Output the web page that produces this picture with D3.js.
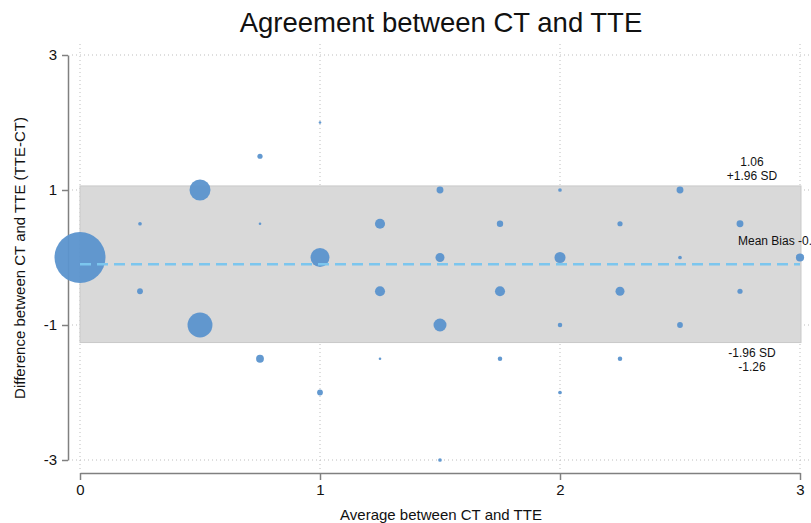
<!DOCTYPE html>
<html>
<head>
    <meta charset="utf-8">
    <style>
        body { margin: 0; background: #fff; }
        svg { display: block; font-family: 'Liberation Sans', Arial, Helvetica, sans-serif; }
        .grid line { stroke: #bdbdbd; stroke-dasharray: 1 3; }
        .axis .domain, .axis .tick line { stroke: #808080; stroke-width: 1.5; }
        .axis .tick text { fill: #111; font-size: 15px; }
    </style>
</head>
<body>
    <svg width="811" height="523"></svg>

<script src="https://d3js.org/d3.v7.min.js"></script>
<script>
    // average of the two methods (x), difference TTE-CT (y), number of patients at that point
    let avgVals  = [0, 0.25, 0.25, 0.5, 0.5, 0.75, 0.75, 0.75, 1, 1, 1, 1.25, 1.25, 1.25, 1.5, 1.5, 1.5, 1.5,
                    1.75, 1.75, 1.75, 2, 2, 2, 2, 2.25, 2.25, 2.25, 2.5, 2.5, 2.5, 2.75, 2.75, 3];
    let diffVals = [0, 0.5, -0.5, 1, -1, 1.5, 0.5, -1.5, 2, 0, -2, 0.5, -0.5, -1.5, 1, 0, -1, -3,
                    0.5, -0.5, -1.5, 1, 0, -1, -2, 0.5, -0.5, -1.5, 1, 0, -1, 0.5, -0.5, 0];
    let counts   = [385, 2, 5, 65, 92, 4, 1, 9, 1, 53, 5, 15, 15, 1, 7, 12, 25, 2,
                    6, 15, 3, 2, 18, 3, 2, 4, 12, 3, 7, 2, 5, 7, 4, 10];

    let meanBias = -0.10;
    let upperLoA = 1.06;
    let lowerLoA = -1.26;

    let xTicks = [0, 1, 2, 3];
    let yTicks = [-3, -1, 1, 3];

    let data = avgVals.map((a, i) => ({ avg: a, diff: diffVals[i], n: counts[i] }));

    let svg = d3.select("svg");

    let x = d3.scaleLinear().domain([0, 3]).range([80, 800]);
    let y = d3.scaleLinear().domain([-3, 3]).range([460, 55]);
    let r = d3.scaleSqrt().domain([0, d3.max(counts)]).range([0, 25.5]);

    // dotted grid
    let grid = svg.append("g").attr("class", "grid");
    grid.selectAll(".gx").data(xTicks).join("line")
        .attr("x1", d => x(d)).attr("x2", d => x(d))
        .attr("y1", 44).attr("y2", 470);
    grid.selectAll(".gy").data(yTicks).join("line")
        .attr("x1", 72).attr("x2", 811)
        .attr("y1", d => y(d)).attr("y2", d => y(d));

    // limits of agreement band
    svg.append("rect")
        .attr("x", x(0))
        .attr("y", y(upperLoA))
        .attr("width", x(3) - x(0) + 1)
        .attr("height", y(lowerLoA) - y(upperLoA))
        .attr("fill", "#d9d9d9")
        .attr("stroke", "#c9c9c9");

    // axes
    svg.append("g")
        .attr("class", "axis")
        .attr("transform", "translate(68,0)")
        .call(d3.axisLeft(y).tickValues(yTicks).tickFormat(d => String(d)).tickSize(6).tickSizeOuter(0).tickPadding(5));

    svg.append("g")
        .attr("class", "axis")
        .attr("transform", "translate(0,473)")
        .call(d3.axisBottom(x).tickValues(xTicks).tickFormat(d => String(d)).tickSize(7).tickSizeOuter(0).tickPadding(4));

    // bubbles
    svg.append("g")
        .selectAll("circle")
        .data(data.sort((a, b) => b.n - a.n))
        .join("circle")
        .attr("cx", d => x(d.avg))
        .attr("cy", d => y(d.diff))
        .attr("r", d => r(d.n))
        .attr("fill", "#5b93cd")
        .attr("fill-opacity", 0.95);

    // mean bias line
    svg.append("line")
        .attr("x1", x(0)).attr("x2", x(3))
        .attr("y1", y(meanBias)).attr("y2", y(meanBias))
        .attr("stroke", "#7cc6ee")
        .attr("stroke-width", 2.5)
        .attr("stroke-dasharray", "11 6");

    // annotations
    let ann = svg.append("g").attr("font-size", "12px").attr("fill", "#111");
    ann.append("text").attr("x", 752).attr("y", y(upperLoA) - 20).attr("text-anchor", "middle").text(upperLoA.toFixed(2));
    ann.append("text").attr("x", 752).attr("y", y(upperLoA) - 6).attr("text-anchor", "middle").text("+1.96 SD");
    ann.append("text").attr("x", 752).attr("y", y(lowerLoA) + 14).attr("text-anchor", "middle").text("-1.96 SD");
    ann.append("text").attr("x", 752).attr("y", y(lowerLoA) + 28).attr("text-anchor", "middle").text(lowerLoA.toFixed(2));
    ann.append("text").attr("x", 738).attr("y", y(meanBias) - 19).text("Mean Bias " + meanBias.toFixed(1));

    // titles
    svg.append("text")
        .attr("x", 441).attr("y", 32)
        .attr("text-anchor", "middle")
        .attr("font-size", "27.5px")
        .attr("fill", "#111")
        .text("Agreement between CT and TTE");

    svg.append("text")
        .attr("x", 441).attr("y", 520)
        .attr("text-anchor", "middle")
        .attr("font-size", "15px")
        .attr("fill", "#111")
        .text("Average between CT and TTE");

    svg.append("text")
        .attr("transform", "translate(25,258) rotate(-90)")
        .attr("text-anchor", "middle")
        .attr("font-size", "15px")
        .attr("fill", "#111")
        .text("Difference between CT and TTE (TTE-CT)");
</script>
</body>
</html>
